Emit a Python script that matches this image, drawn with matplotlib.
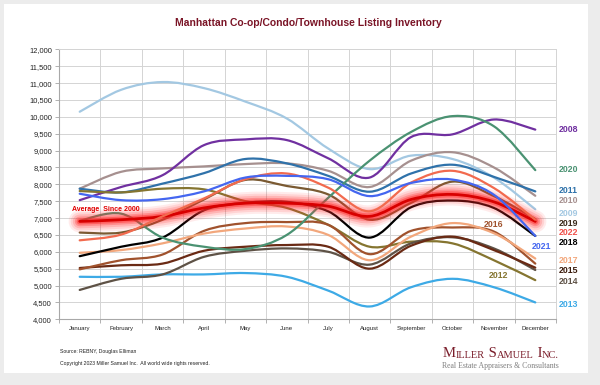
import matplotlib.pyplot as plt
import numpy as np
from matplotlib.path import Path
from matplotlib.patches import PathPatch, Rectangle

# Data (listings per month)
months = ['January', 'February', 'March', 'April', 'May', 'June', 'July',
          'August', 'September', 'October', 'November', 'December']

inv_2008 = [7530, 7920, 8270, 9160, 9330, 9310, 8770, 8200, 9400, 9480, 9920, 9620]
inv_2009 = [10150, 10800, 11030, 10850, 10450, 9950, 9060, 8450, 8850, 8750, 8200, 7260]
inv_2010 = [7870, 8370, 8470, 8530, 8600, 8620, 8400, 7920, 8700, 8950, 8500, 7660]
inv_2011 = [7870, 7760, 8020, 8330, 8750, 8620, 8250, 7780, 8320, 8580, 8220, 7790]
inv_2012 = [7800, 7760, 7870, 7850, 7500, 7300, 6800, 6150, 6300, 6250, 5750, 5160]
inv_2013 = [5260, 5260, 5330, 5330, 5370, 5260, 4850, 4380, 4950, 5200, 4950, 4500]
inv_2014 = [4870, 5200, 5330, 5850, 6030, 6100, 6000, 5620, 6250, 6430, 6100, 5460]
inv_2015 = [5520, 5600, 5650, 6030, 6150, 6200, 6150, 5500, 6180, 6450, 6050, 5530]
inv_2016 = [5480, 5750, 5920, 6620, 6850, 6880, 6800, 5930, 6620, 6720, 6600, 5650]
inv_2017 = [5970, 6050, 6250, 6540, 6690, 6750, 6500, 5750, 6450, 6850, 6550, 5800]
inv_2018 = [5870, 6150, 6420, 7230, 7450, 7480, 7200, 6420, 7320, 7520, 7300, 6470]
inv_2019 = [6570, 6570, 6950, 7550, 8130, 7950, 7700, 6950, 7450, 8080, 7650, 6970]
inv_2020 = [6920, 7130, 6420, 6150, 6080, 6500, 7600, 8700, 9550, 10020, 9720, 8420]
inv_2021 = [7720, 7530, 7560, 7790, 8200, 8250, 8150, 7650, 8040, 8140, 7690, 6470]
inv_2022 = [6340, 6510, 7050, 7580, 8150, 8320, 7900, 7200, 8050, 8400, 7890, 6950]
avg_since_2000 = [6900, 6950, 7050, 7300, 7440, 7440, 7350, 7050, 7550, 7700, 7480, 6900]

series = [
    ('2009', inv_2009, '#a3c8e2'),
    ('2010', inv_2010, '#a6908f'),
    ('2008', inv_2008, '#7030a0'),
    ('2011', inv_2011, '#2f72aa'),
    ('2012', inv_2012, '#857530'),
    ('2013', inv_2013, '#3daae6'),
    ('2014', inv_2014, '#5e5246'),
    ('2015', inv_2015, '#6a2a14'),
    ('2016', inv_2016, '#a0522d'),
    ('2017', inv_2017, '#f2a77c'),
    ('2018', inv_2018, '#000000'),
    ('2019', inv_2019, '#7a5a32'),
    ('2020', inv_2020, '#4a9272'),
]
top_series = [
    ('2022', inv_2022, '#f26a4e'),
    ('2021', inv_2021, '#4466f0'),
]

# label positions at the right side (value units)
right_labels = [
    ('2008', 9635, '#7030a0'), ('2020', 8448, '#4a9272'), ('2011', 7825, '#2f72aa'),
    ('2010', 7528, '#a6908f'), ('2009', 7142, '#a3c8e2'), ('2019', 6846, '#3a2a1a'),
    ('2022', 6579, '#f0504a'), ('2018', 6282, '#000000'), ('2017', 5748, '#f2a77c'),
    ('2015', 5451, '#3a1a0a'), ('2014', 5125, '#5e5246'), ('2013', 4442, '#3daae6'),
]


def smooth_path(vals):
    # Excel-style smoothed line through the monthly points
    pts = np.column_stack([np.arange(len(vals)), vals]).astype(float)
    n = len(pts)
    verts = [pts[0]]
    codes = [Path.MOVETO]
    for i in range(n - 1):
        p0 = pts[max(i - 1, 0)]
        p1 = pts[i]
        p2 = pts[i + 1]
        p3 = pts[min(i + 2, n - 1)]
        verts += [p1 + (p2 - p0) / 6, p2 - (p3 - p1) / 6, p2]
        codes += [Path.CURVE4] * 3
    return Path(verts, codes)


def draw(ax, vals, color, lw=1.6, alpha=1.0, z=3):
    ax.add_patch(PathPatch(smooth_path(vals), fill=False, edgecolor=color, lw=lw,
                           alpha=alpha, zorder=z, capstyle='round', joinstyle='round'))


plt.rcParams['font.family'] = ['Liberation Sans', 'DejaVu Sans']

fig = plt.figure(figsize=(6, 3.85), dpi=100)
fig.patch.set_facecolor('#ececec')
fig.add_artist(Rectangle((4 / 600, 1 - 373 / 385), 584 / 600, 369 / 385,
                         transform=fig.transFigure, facecolor='white',
                         edgecolor='none', zorder=0))

ax = fig.add_axes([59 / 600, 1 - 319.3 / 385, 497 / 600, 270 / 385])
ax.set_facecolor('white')
ax.set_xlim(-0.5, 11.5)
ax.set_ylim(4000, 12000)

ax.set_xticks(range(12))
ax.set_xticklabels(months, fontsize=4.3, color='#222222')
ax.set_xticks(np.arange(-0.5, 12, 1), minor=True)
ax.set_yticks(range(4000, 12001, 500))
ax.set_yticklabels([f'{v:,}' for v in range(4000, 12001, 500)], fontsize=5.4, color='#222222')
ax.tick_params(axis='x', which='major', length=0, pad=5)
ax.tick_params(axis='x', which='minor', length=3, color='#b0b0b0', width=0.7)
ax.tick_params(axis='y', length=3, color='#b0b0b0', width=0.7, pad=2)
ax.grid(True, axis='y', color='#d4d4d4', lw=0.7, zorder=1)
ax.grid(True, axis='x', which='minor', color='#d4d4d4', lw=0.7, zorder=1)
for s in ['top', 'right']:
    ax.spines[s].set_color('#d4d4d4')
    ax.spines[s].set_linewidth(0.7)
for s in ['left', 'bottom']:
    ax.spines[s].set_color('#a8a8a8')
    ax.spines[s].set_linewidth(0.8)

for name, vals, color in series:
    draw(ax, vals, color)

# glowing average line
for lw, a in [(16, 0.09), (13, 0.12), (10, 0.18), (7, 0.28), (4.5, 0.45)]:
    draw(ax, avg_since_2000, '#ff2a2a', lw=lw, alpha=a, z=4)
draw(ax, avg_since_2000, '#d80000', lw=2.0, z=5)

for name, vals, color in top_series:
    draw(ax, vals, color, z=6)

for name, y, color in right_labels:
    ax.text(11.56, y, name, color=color, fontsize=6.3, fontweight='bold',
            va='center', ha='left', clip_on=False)
ax.text(11.16, 6163, '2021', color='#4466f0', fontsize=6.3, fontweight='bold',
        va='center', ha='center')
ax.text(10.0, 6816, '2016', color='#a0522d', fontsize=6.3, fontweight='bold',
        va='center', ha='center')
ax.text(10.1, 5303, '2012', color='#857530', fontsize=6.3, fontweight='bold',
        va='center', ha='center')
ax.text(-0.19, 7260, 'Average  Since 2000', color='#e00000', fontsize=5.0,
        fontweight='bold', va='center', ha='left', zorder=7)

fig.text(308 / 600, 1 - 23 / 385, 'Manhattan Co-op/Condo/Townhouse Listing Inventory',
         ha='center', va='center', fontsize=7.5, fontweight='bold', color='#7a1426')

fig.text(60 / 600, 1 - 352 / 385, 'Source: REBNY, Douglas Elliman',
         fontsize=3.7, va='center', color='#222222')
fig.text(60 / 600, 1 - 363 / 385,
         'Copyright 2023 Miller Samuel Inc.  All world wide rights reserved.',
         fontsize=3.7, va='center', color='#222222')

# small-caps logo, built piece by piece
brand = '#7b1e2b'
pieces = [('M', 10.5), ('ILLER', 7.5), (' S', 10.5), ('AMUEL', 7.5), (' I', 10.5), ('NC.', 7.5)]
prev = fig.text(443 / 600, 1 - 357 / 385, pieces[0][0], fontsize=pieces[0][1],
                family='Liberation Serif', color=brand, va='baseline')
for txt, fs in pieces[1:]:
    prev = ax.annotate(txt, xy=(1, 0), xycoords=prev, va='bottom', ha='left',
                       fontsize=fs, family='Liberation Serif', color=brand,
                       annotation_clip=False)
fig.text(559 / 600, 1 - 366 / 385, 'Real Estate Appraisers & Consultants',
         ha='right', va='center', fontsize=5.6, family='Liberation Serif',
         color='#7f7f7f')

fig.savefig('out.png', dpi=100, facecolor=fig.get_facecolor())
